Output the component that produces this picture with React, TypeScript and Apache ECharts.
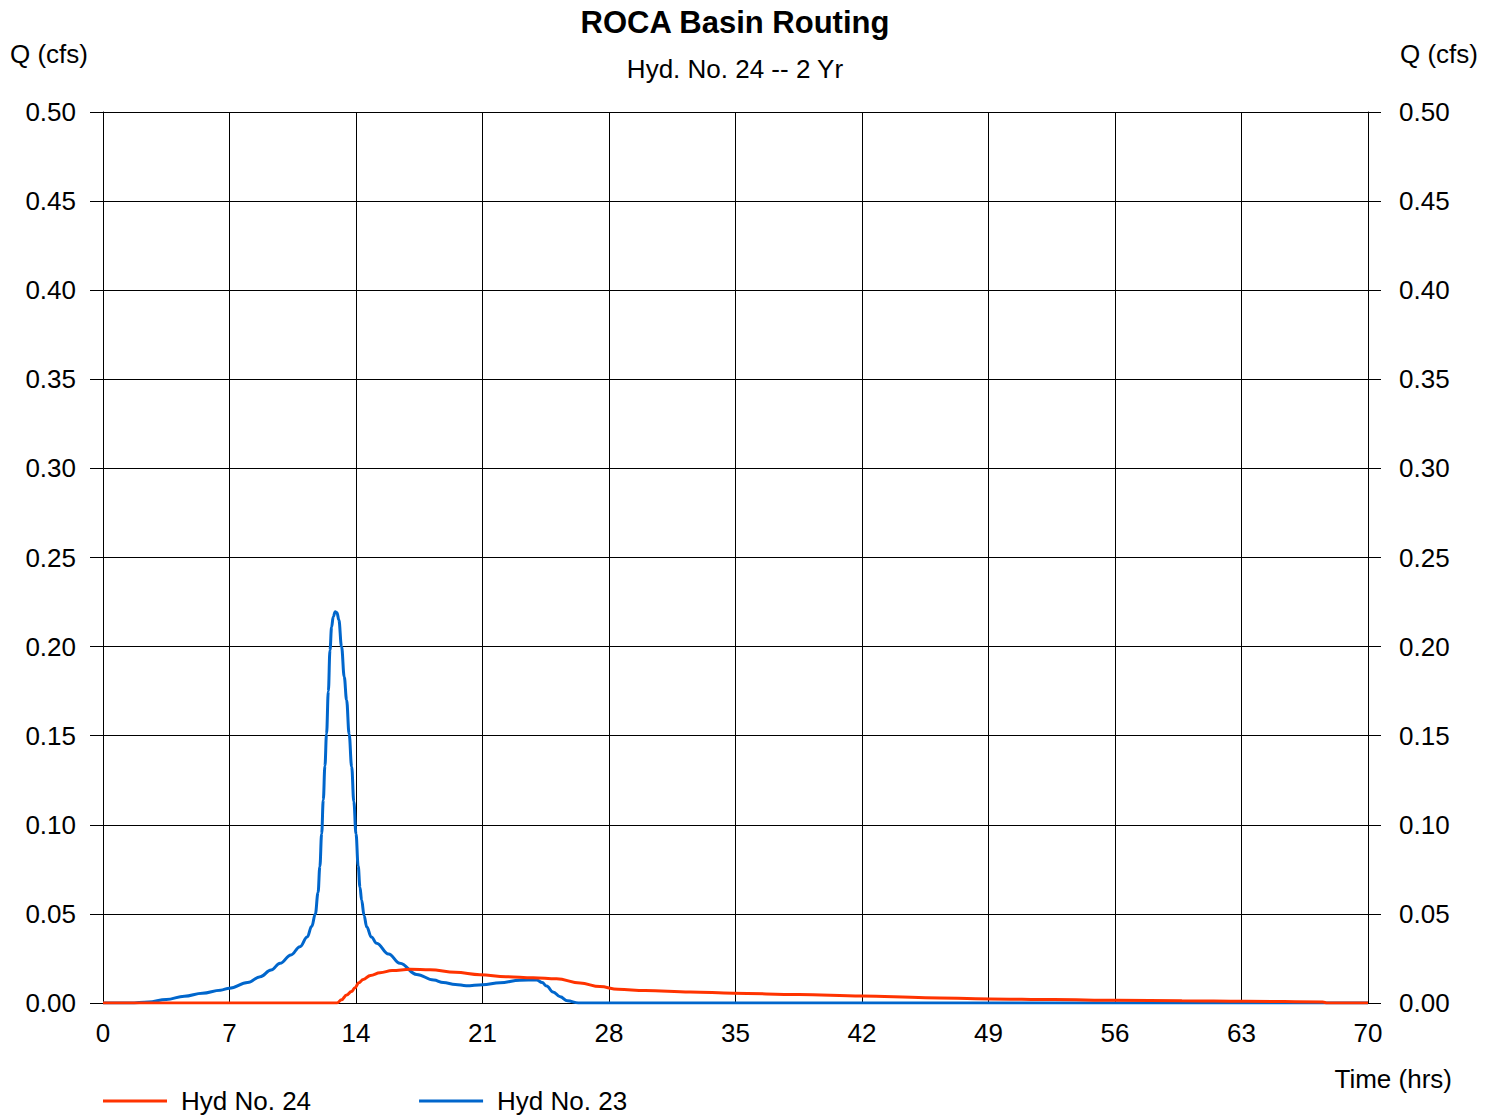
import React, { useEffect, useRef } from "react";
import * as echarts from "echarts";

const FONT = "'Liberation Sans', Arial, Helvetica, sans-serif";

// Hyd No. 23 (blue): time (hrs), flow (cfs)
const hyd23Time = [0, 1.5, 2.5, 3.5, 4.5, 5.5, 6.5, 7.0, 8.0, 8.7, 9.3, 9.8, 10.4, 10.9, 11.3, 11.55, 11.75, 11.9, 12.0, 12.1, 12.19, 12.28, 12.37, 12.47, 12.56, 12.65, 12.74, 12.85, 12.95, 13.05, 13.2, 13.35, 13.48, 13.62, 13.76, 13.88, 14.0, 14.12, 14.22, 14.31, 14.45, 14.59, 14.85, 15.14, 15.8, 16.43, 17.36, 18.3, 18.83, 19.5, 20.1, 21.0, 21.97, 23.07, 24.0, 24.3, 24.55, 24.9, 25.3, 25.7, 26.3, 70];
const hyd23Flow = [0, 0, 0.0006, 0.002, 0.0038, 0.0055, 0.0072, 0.0083, 0.0115, 0.0148, 0.0185, 0.0223, 0.027, 0.0316, 0.037, 0.043, 0.05, 0.062, 0.0765, 0.095, 0.114, 0.133, 0.151, 0.175, 0.198, 0.211, 0.2168, 0.2195, 0.219, 0.215, 0.2, 0.183, 0.17, 0.151, 0.1326, 0.113, 0.095, 0.077, 0.065, 0.0578, 0.049, 0.0428, 0.037, 0.0335, 0.0275, 0.0223, 0.016, 0.0129, 0.0115, 0.0104, 0.0097, 0.0103, 0.0114, 0.0128, 0.0129, 0.0115, 0.0095, 0.0062, 0.0035, 0.0012, 0, 0];

// Hyd No. 24 (red)
const hyd24Time = [0, 12.95, 13.2, 13.48, 13.75, 13.94, 14.15, 14.4, 14.8, 15.33, 16.0, 17.0, 18.1, 19.5, 20.86, 22.3, 23.8, 25.1, 26.4, 27.5, 28.5, 30.0, 32.5, 34.9, 38.5, 42.0, 45.5, 49.1, 52.6, 56.1, 59.7, 63.2, 67.5, 67.7, 70];
const hyd24Flow = [0, 0, 0.0018, 0.0045, 0.0065, 0.0085, 0.0113, 0.0132, 0.0155, 0.017, 0.0182, 0.0189, 0.0186, 0.0172, 0.0159, 0.0148, 0.0142, 0.0136, 0.0112, 0.0092, 0.0077, 0.007, 0.0062, 0.0055, 0.0047, 0.0039, 0.003, 0.0023, 0.0019, 0.0015, 0.0013, 0.001, 0.0006, 0, 0];

const xTicks = [0, 7, 14, 21, 28, 35, 42, 49, 56, 63, 70];
const seriesNames = ["Hyd No. 24", "Hyd No. 23"];
const titleText = "ROCA Basin Routing";
const subtitleText = "Hyd. No. 24 -- 2 Yr";
const yAxisName = "Q (cfs)";
const xAxisName = "Time (hrs)";

const toPairs = (t: number[], q: number[]) => t.map((v, i) => [v, q[i]]);

export default function App() {
  const ref = useRef<HTMLDivElement>(null);
  useEffect(() => {
    if (!ref.current) return;
    const chart = echarts.init(ref.current, null, { renderer: "svg" });
    const yAxisCommon = {
      type: "value" as const,
      min: 0,
      max: 0.5,
      interval: 0.05,
      axisLine: { show: true, lineStyle: { color: "#000", width: 1 } },
      axisTick: { show: true, inside: false, length: 13, lineStyle: { color: "#000", width: 1 } },
      splitLine: { show: true, lineStyle: { color: "#000", width: 1 } },
    };
    chart.setOption({
      animation: false,
      backgroundColor: "#fff",
      textStyle: { fontFamily: FONT },
      grid: { left: 103, right: 129, top: 112, bottom: 113, containLabel: false },
      xAxis: {
        type: "value",
        min: 0,
        max: 70,
        interval: 7,
        axisLine: { show: true, lineStyle: { color: "#000", width: 1 } },
        axisTick: { show: false },
        splitLine: { show: true, lineStyle: { color: "#000", width: 1 } },
        axisLabel: {
          fontSize: 26,
          color: "#000",
          fontFamily: FONT,
          margin: 17,
          formatter: (v: number) => (xTicks.includes(v) ? String(v) : ""),
        },
      },
      yAxis: [
        {
          ...yAxisCommon,
          position: "left",
          axisLabel: { fontSize: 26, color: "#000", fontFamily: FONT, margin: 27, formatter: (v: number) => v.toFixed(2) },
        },
        {
          ...yAxisCommon,
          position: "right",
          splitLine: { show: false },
          axisLabel: { fontSize: 26, color: "#000", fontFamily: FONT, margin: 31, formatter: (v: number) => v.toFixed(2) },
        },
      ],
      legend: {
        data: seriesNames,
        left: 103,
        top: 1088,
        padding: 0,
        icon: "rect",
        itemWidth: 64,
        itemHeight: 3,
        itemGap: 108,
        textStyle: { fontSize: 26, color: "#000", fontFamily: FONT, padding: [0, 0, 0, 9] },
      },
      series: [
        {
          name: "Hyd No. 23",
          type: "line",
          data: toPairs(hyd23Time, hyd23Flow),
          showSymbol: false,
          symbol: "none",
          smooth: 0.4,
          smoothMonotone: "x",
          lineStyle: { color: "#0066cc", width: 3 },
          itemStyle: { color: "#0066cc" },
          z: 3,
        },
        {
          name: "Hyd No. 24",
          type: "line",
          data: toPairs(hyd24Time, hyd24Flow),
          showSymbol: false,
          symbol: "none",
          smooth: 0.4,
          smoothMonotone: "x",
          lineStyle: { color: "#ff3300", width: 3 },
          itemStyle: { color: "#ff3300" },
          z: 4,
        },
      ],
      graphic: [
        {
          type: "text",
          style: { text: titleText, x: 735, y: 22, align: "center", verticalAlign: "middle", font: `bold 31px ${FONT}`, fill: "#000" },
        },
        {
          type: "text",
          style: { text: subtitleText, x: 735, y: 69, align: "center", verticalAlign: "middle", font: `26px ${FONT}`, fill: "#000" },
        },
        {
          type: "text",
          style: { text: yAxisName, x: 10, y: 54, align: "left", verticalAlign: "middle", font: `26px ${FONT}`, fill: "#000" },
        },
        {
          type: "text",
          style: { text: yAxisName, x: 1478, y: 54, align: "right", verticalAlign: "middle", font: `26px ${FONT}`, fill: "#000" },
        },
        {
          type: "text",
          style: { text: xAxisName, x: 1452, y: 1079, align: "right", verticalAlign: "middle", font: `26px ${FONT}`, fill: "#000" },
        },
      ],
    });
    return () => chart.dispose();
  }, []);
  return (
    <div
      ref={ref}
      style={{ position: "absolute", left: 0, top: 0, width: 1497, height: 1116, background: "#fff" }}
    />
  );
}
